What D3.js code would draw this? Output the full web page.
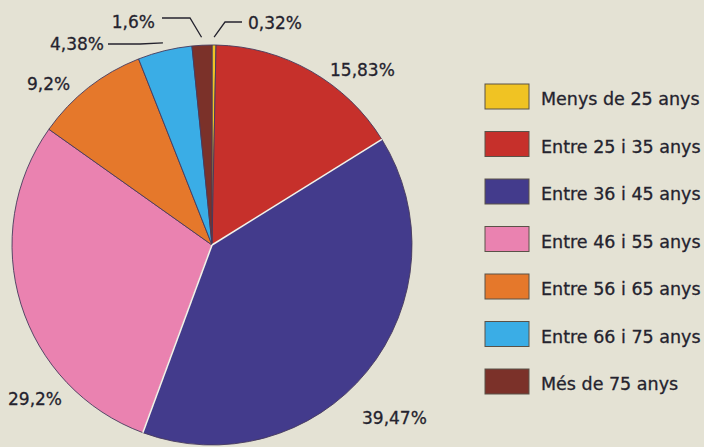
<!DOCTYPE html>
<html><head><meta charset="utf-8">
<script src="https://cdn.jsdelivr.net/npm/d3@7/dist/d3.min.js"></script>
<style>
html,body{margin:0;padding:0;background:#e4e2d4;}
svg{display:block;}
text{font-family:"DejaVu Sans",Verdana,sans-serif;fill:#24232e;stroke:#24232e;stroke-width:0.3px;}
</style></head>
<body>
<svg id="c" width="704" height="447"></svg>
<script>
const categories = ["Menys de 25 anys","Entre 25 i 35 anys","Entre 36 i 45 anys","Entre 46 i 55 anys","Entre 56 i 65 anys","Entre 66 i 75 anys","Més de 75 anys"];
const values = [0.32, 15.83, 39.47, 29.2, 9.2, 4.38, 1.6];
const valueLabels = ["0,32%","15,83%","39,47%","29,2%","9,2%","4,38%","1,6%"];
const colors = ["#f0c323","#c6302b","#433b8c","#ea82b0","#e5782b","#3aade6","#7b3129"];

const W = 704, H = 447;
const cx = 212, cy = 245, R = 200;
const svg = d3.select("#c");
svg.append("rect").attr("width",W).attr("height",H).attr("fill","#e4e2d4");

const pie = d3.pie().sort(null).value(d => d)(values);
const arc = d3.arc().innerRadius(0).outerRadius(R);
const g = svg.append("g").attr("transform",`translate(${cx},${cy})`);

g.selectAll("path.slice").data(pie).join("path")
  .attr("class","slice")
  .attr("d", arc)
  .attr("fill",(d,i)=>colors[i])
  .attr("stroke","#463a5c").attr("stroke-width",0.9);

// white separators on both sides of the blue slice
[pie[2].startAngle, pie[2].endAngle].forEach(a=>{
  g.append("line").attr("x1",0).attr("y1",0)
   .attr("x2",R*Math.sin(a)).attr("y2",-R*Math.cos(a))
   .attr("stroke","#f4f2ea").attr("stroke-width",1.6);
});

// label placement (layout only)
const labelLayout = [
  {x:248, y:29, anchor:"start"},
  {x:330, y:76, anchor:"start"},
  {x:362, y:424, anchor:"start"},
  {x:8,   y:405, anchor:"start"},
  {x:27,  y:90, anchor:"start"},
  {x:104, y:50, anchor:"end"},
  {x:155, y:28, anchor:"end"}
];
svg.selectAll("text.pct").data(pie).join("text")
  .attr("class","pct")
  .attr("x",(d,i)=>labelLayout[i].x).attr("y",(d,i)=>labelLayout[i].y)
  .attr("text-anchor",(d,i)=>labelLayout[i].anchor)
  .attr("font-size",17)
  .text((d,i)=>valueLabels[i]);

// leader lines for small slices
function edgePt(d, r){ const a=(d.startAngle+d.endAngle)/2; return [cx+r*Math.sin(a), cy-r*Math.cos(a)]; }
const leaders = [
  {i:0, pts:[[225,22],[242,22]]},
  {i:6, pts:[[190,18],[162,18]]},
  {i:5, pts:[[140,44],[108,44]]}
];
leaders.forEach(L=>{
  const p0 = edgePt(pie[L.i], R+8);
  svg.append("path").attr("d", d3.line()([p0, ...L.pts]))
    .attr("fill","none").attr("stroke","#24232e").attr("stroke-width",1.3);
});

// legend
const lg = svg.append("g");
const rowY = d3.scalePoint().domain(categories).range([84,369]);
categories.forEach((c,i)=>{
  lg.append("rect").attr("x",485).attr("y",rowY(c)).attr("width",44).attr("height",25)
    .attr("fill",colors[i]).attr("stroke","#5a5248").attr("stroke-width",1);
  lg.append("text").attr("x",541).attr("y",rowY(c)+21).attr("font-size",17.5).text(c);
});
</script>
</body></html>
